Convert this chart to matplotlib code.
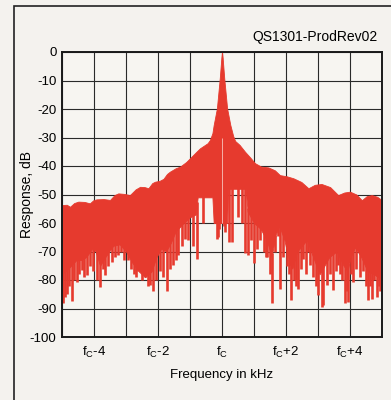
import numpy as np
import matplotlib
matplotlib.use("Agg")
import matplotlib.pyplot as plt
from matplotlib.patches import Rectangle

plt.rcParams['font.family'] = ['Liberation Sans', 'DejaVu Sans']
plt.rcParams['mathtext.fontset'] = 'custom'
plt.rcParams['mathtext.rm'] = 'Liberation Sans'
plt.rcParams['axes.unicode_minus'] = False

# upper envelope of the response, kHz offset from fc vs dB
freq_top = [-5.0, -4.85, -4.75, -4.62, -4.49, -4.30, -4.13, -4.02, -3.92, -3.70, -3.50,
            -3.36, -3.24, -3.05, -2.88, -2.70, -2.56, -2.42, -2.30, -2.18, -2.09, -1.95,
            -1.83, -1.72, -1.63, -1.45, -1.31, -1.12, -0.95, -0.80, -0.69, -0.45, -0.38,
            -0.30, -0.26, -0.16, -0.07, -0.02, 0.0, 0.02, 0.07, 0.16, 0.26, 0.35, 0.41,
            0.55, 0.72, 0.88, 1.03, 1.22, 1.45, 1.65, 1.81, 2.02, 2.23, 2.48, 2.70,
            2.90, 3.11, 3.38, 3.63, 3.82, 4.00, 4.20, 4.37, 4.52, 4.68, 4.85, 5.0]
db_top = [-53.7, -53.6, -54.3, -53.0, -52.5, -52.6, -53.1, -52.0, -51.7, -51.6, -51.9,
          -50.2, -49.6, -49.8, -50.2, -48.2, -47.3, -47.4, -47.8, -46.0, -45.5, -45.2,
          -44.5, -42.8, -42.0, -40.8, -40.2, -38.6, -36.7, -35.0, -33.8, -32.0, -30.9,
          -28.5, -25.6, -19.8, -9.2, -2.0, 0.0, -2.0, -9.2, -19.8, -25.6, -29.5, -31.2,
          -32.6, -35.0, -37.0, -39.0, -40.2, -40.5, -41.5, -43.2, -43.6, -44.3, -45.6,
          -47.8, -46.6, -46.3, -47.4, -50.2, -49.3, -49.0, -50.0, -52.0, -50.6, -50.2,
          -50.8, -52.0]

# lower edge of the solid band
freq_bot = [-5.0, -4.80, -4.55, -4.40, -4.25, -4.05, -3.95, -3.81, -3.65, -3.40, -3.20,
            -3.00, -2.80, -2.60, -2.40, -2.20, -2.05, -1.90, -1.75, -1.60, -1.45, -1.20,
            -1.00, -0.82, -0.76, -0.30, -0.26, 0.16, 0.19, 0.74, 0.80, 1.00, 1.20, 1.40,
            1.55, 1.68, 1.79, 1.95, 2.10, 2.20, 2.35, 2.65, 2.85, 3.05, 3.15, 3.35, 3.58,
            3.80, 3.92, 4.02, 4.16, 4.35, 4.55, 4.75, 5.00]
db_bot = [-78, -76, -73, -73, -72, -69, -70, -75, -72, -68, -67.5,
          -70, -74, -77, -79, -77, -72, -69, -70, -67, -63, -60,
          -58, -57, -51, -51, -60, -60, -48, -48, -56, -60, -62, -66,
          -72, -64, -61, -66, -74, -76, -70, -66, -72, -78, -76, -72, -70,
          -75, -77, -72, -68.5, -72, -77, -78, -80]

# nulls reaching below the solid band
spike_f = [-4.96, -4.90, -4.85, -4.78, -4.70, -4.62, -4.54, -4.46, -4.39, -4.30, -4.23,
           -4.12, -4.02, -3.92, -3.81, -3.72, -3.66, -3.55, -3.45, -3.35, -3.24, -3.15,
           -3.05, -2.95, -2.85, -2.75, -2.68, -2.61, -2.50, -2.41, -2.32, -2.25, -2.15,
           -2.05, -1.94, -1.85, -1.73, -1.62, -1.52, -1.44, -1.36, -1.25, -1.16, -1.05,
           -0.92, -0.79, -0.60, -0.17, -0.14, -0.08, 0.05, 0.10, 0.22, 0.30, 0.50, 0.62,
           0.73, 0.82, 0.92, 0.99, 1.08, 1.20, 1.30, 1.36, 1.42, 1.49, 1.55, 1.65, 1.76,
           1.81, 1.90, 2.02, 2.10, 2.17, 2.25, 2.32, 2.39, 2.47, 2.54, 2.62, 2.70, 2.75,
           2.85, 2.93, 3.01, 3.12, 3.17, 3.27, 3.38, 3.48, 3.56, 3.64, 3.70, 3.75, 3.83,
           3.90, 3.95, 4.03, 4.10, 4.20, 4.30, 4.42, 4.50, 4.56, 4.62, 4.68, 4.76, 4.83,
           4.90, 4.94, 4.98]
spike_db = [-88, -86, -85, -82, -87.5, -80, -80.6, -78, -76.5, -79, -78.3,
            -75, -77, -80, -82.3, -76, -78.3, -75, -73.6, -72, -71.3, -70,
            -73, -73, -76, -78, -79, -77, -80, -78.8, -82, -81.7, -84,
            -80, -77, -79, -84, -76, -74.8, -73, -71.3, -68, -65.5, -66,
            -68, -72.5, -60, -65.5, -64.8, -62, -61, -63, -66.5, -66.7, -58, -60,
            -70.5, -71.3, -66, -74, -69, -66, -70, -72, -72, -78, -88.2, -70, -64.4,
            -83, -72, -75, -78, -87, -80, -82, -83, -76, -72.5, -78, -70, -74.8,
            -79, -82, -85.4, -89.4, -88.7, -81.7, -78, -83.5, -77, -74.8, -78, -80, -88,
            -84, -87.6, -78, -80.6, -76, -79, -77, -82, -87, -82, -86.8, -80, -86,
            -82, -84, -80]

tick_pos = list(range(-5, 6))
tick_lab = ['', r'$\mathregular{f_C}$-4', '', r'$\mathregular{f_C}$-2', '',
            r'$\mathregular{f_C}$', '', r'$\mathregular{f_C}$+2', '',
            r'$\mathregular{f_C}$+4', '']

red = '#e63a2e'

fig = plt.figure(figsize=(3.91, 4.0), dpi=100, facecolor='#f4f2ee')
ax = fig.add_axes([62/391, 1 - 337/400, 320/391, 285/400])
ax.set_facecolor('#f7f5f1')

# band: top envelope down to the solid lower edge
fgrid = np.union1d(freq_top, freq_bot)
ax.fill_between(fgrid, np.interp(fgrid, freq_top, db_top),
                np.interp(fgrid, freq_bot, db_bot), color=red, lw=0.6,
                edgecolor=red)
start = np.interp(spike_f, freq_bot, db_bot) + 1.5
ax.vlines(spike_f, spike_db, start, color=red, lw=1.9)
# faint gap line right at fc
ax.vlines([0.0], -60, -30, color='#f6b0a8', lw=0.7)

ax.set_xlim(-5, 5)
ax.set_ylim(-100, 0)
ax.set_xticks(tick_pos)
ax.set_xticklabels(tick_lab, fontsize=9.5)
ax.set_yticks(range(-100, 1, 10))
ax.tick_params(length=0, pad=4, labelsize=9.5)
ax.tick_params(axis='x', pad=6)
ax.grid(True, color='#2a2a2a', lw=0.8)
ax.set_axisbelow(True)
for s in ax.spines.values():
    s.set_linewidth(1.4)
    s.set_color('#1a1a1a')

ax.set_xlabel('Frequency in kHz', fontsize=9.5)
ax.xaxis.set_label_coords(0.5, -0.112)
ax.set_ylabel('Response, dB', fontsize=10)
ax.yaxis.set_label_coords(-0.088, 0.5)
fig.text(378/391, 1 - 37/400, 'QS1301-ProdRev02', fontsize=10,
         ha='right', va='center')

fig.patches.append(Rectangle((14/391, -0.1), 1.2, 1.1 - 6/400, fill=False,
                             lw=1.2, edgecolor='#222222',
                             transform=fig.transFigure, figure=fig))

fig.savefig('out.png', dpi=100, facecolor=fig.get_facecolor())
